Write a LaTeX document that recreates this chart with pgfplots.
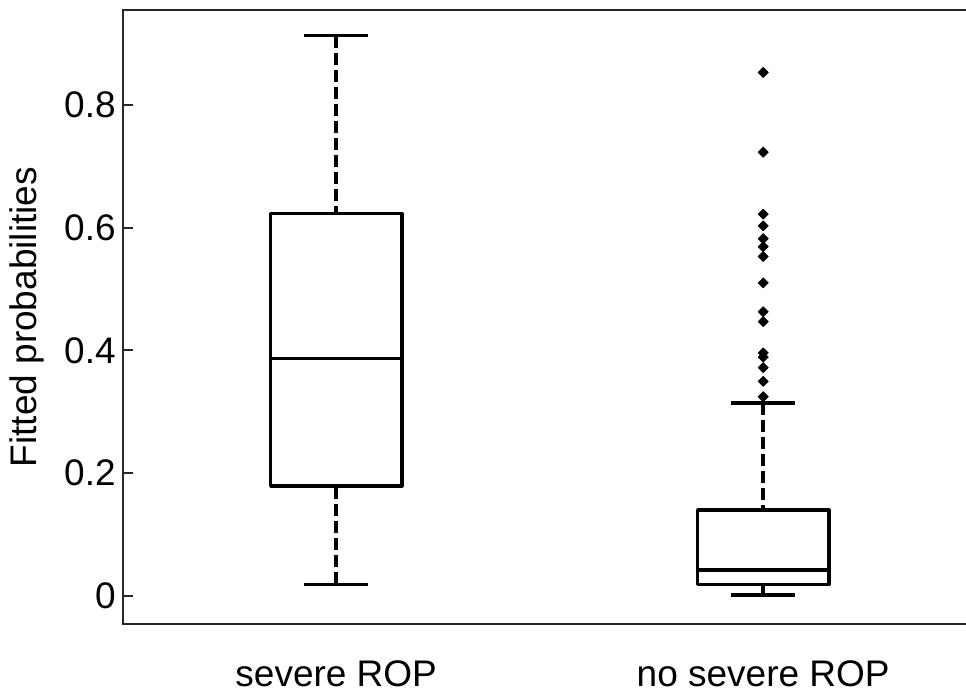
\documentclass[border=0pt]{standalone}
\usepackage{fontspec}
\setmainfont{Liberation Sans}
\usepackage{pgfplots}
\pgfplotsset{compat=1.18}
\usepgfplotslibrary{statistics}
\begin{document}
\begin{tikzpicture}
\begin{axis}[
  name=ax,
  scale only axis,
  width=427pt, height=307.2pt,
  xmin=0.5, xmax=2.5,
  ymin=-0.0466, ymax=0.9548,
  axis line style={black!85, line width=1pt},
  tick align=inside,
  major tick length=5.2pt,
  ytick={0,0.2,0.4,0.6,0.8},
  yticklabels={0,0.2,0.4,0.6,0.8},
  ytick style={black!85, line width=1pt},
  ytick pos=both,
  xtick={1,2},
  xticklabels={severe ROP,no severe ROP},
  xtick style={draw=none},
  /pgf/number format/assume math mode=true,
  tick label style={font=\fontsize{18.5}{22}\selectfont},
  xticklabel style={anchor=base, yshift=-31.2pt, inner sep=0.5pt},
  ylabel={Fitted probabilities},
  every axis y label/.style={at={(rel axis cs:-0.1121,0.5)}, rotate=90, anchor=center, font=\fontsize{18.5}{22}\selectfont},
  boxplot/draw direction=y,
  boxplot/box extend=0.307,
  boxplot/whisker extend=0.15,
  boxplot/draw/lower whisker/.code={%
    \draw[dash pattern=on 6pt off 2.5pt] (boxplot cs:\pgfplotsboxplotvalue{lower whisker}) -- (boxplot cs:\pgfplotsboxplotvalue{lower quartile});
    \draw (boxplot whisker cs:\pgfplotsboxplotvalue{lower whisker},0) -- (boxplot whisker cs:\pgfplotsboxplotvalue{lower whisker},1);
  },
  boxplot/draw/upper whisker/.code={%
    \draw[dash pattern=on 6pt off 2.5pt] (boxplot cs:\pgfplotsboxplotvalue{upper whisker}) -- (boxplot cs:\pgfplotsboxplotvalue{upper quartile});
    \draw (boxplot whisker cs:\pgfplotsboxplotvalue{upper whisker},0) -- (boxplot whisker cs:\pgfplotsboxplotvalue{upper whisker},1);
  },
]
\addplot[black, line width=1.75pt, line join=round,
  boxplot prepared={draw position=1, lower whisker=0.0186, lower quartile=0.179,
    median=0.387, upper quartile=0.6234, upper whisker=0.913}] coordinates {};
\addplot[black, line width=1.75pt, line join=round,
  mark=square*, mark size=1.8pt, mark options={rotate=45, solid, line width=0.3pt, fill=black},
  boxplot prepared={draw position=2, lower whisker=0.001, lower quartile=0.0186,
    median=0.0419, upper quartile=0.1397, upper whisker=0.3146}]
  table[row sep=\\, y index=0] {data\\ 0.853\\ 0.723\\ 0.622\\ 0.603\\ 0.582\\ 0.569\\ 0.553\\ 0.510\\ 0.463\\ 0.447\\ 0.396\\ 0.389\\ 0.372\\ 0.3495\\ 0.3245\\};
\end{axis}
\pgfresetboundingbox
\path[use as bounding box] ([xshift=-61.35pt,yshift=-34.35pt]ax.south west) rectangle ([xshift=-5.35pt,yshift=5pt]ax.north east);
\end{tikzpicture}
\end{document}
